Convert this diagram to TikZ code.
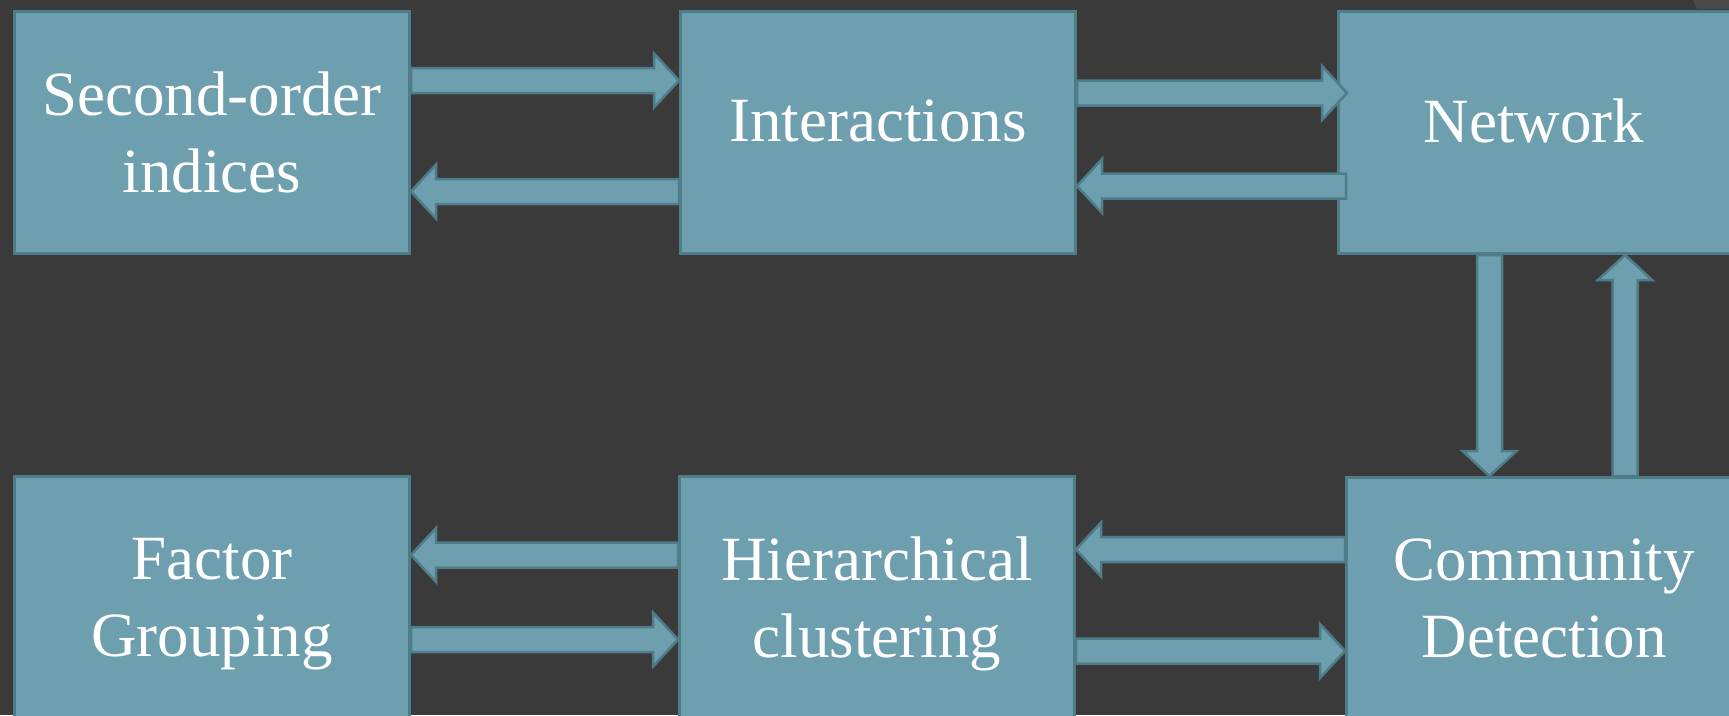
\documentclass[tikz,border=0pt]{standalone}
\usepackage{fontspec}
\setmainfont{Liberation Serif}
\usetikzlibrary{calc}
\definecolor{bgdark}{RGB}{58,58,58}
\definecolor{bgpatch}{RGB}{74,74,74}
\definecolor{boxfill}{RGB}{110,159,175}
\definecolor{boxline}{RGB}{79,124,137}
\tikzset{
  stage/.style={draw=boxline, fill=boxfill, line width=3pt, minimum width=395pt,
    minimum height=242pt, inner sep=0pt, anchor=north west},
  caption/.style={text=white, font=\fontsize{63}{77}\selectfont, align=center, inner sep=0pt},
  flow/.style={draw=boxline, fill=boxfill, line width=2.5pt, line join=miter},
}
% block arrow from #1 to #2: shaft 25pt wide, head 54pt wide and 25pt long
\newcommand\flowarrow[2]{%
  \path (#1) coordinate (fa-s) (#2) coordinate (fa-t);
  \path ($(fa-t)!25pt!(fa-s)$) coordinate (fa-h);
  \draw[flow] ($(fa-s)!12.5pt!90:(fa-t)$) -- ($(fa-h)!12.5pt!-90:(fa-s)$)
    -- ($(fa-h)!27pt!-90:(fa-s)$) -- (fa-t) -- ($(fa-h)!27pt!90:(fa-s)$)
    -- ($(fa-h)!12.5pt!90:(fa-s)$) -- ($(fa-s)!12.5pt!-90:(fa-t)$) -- cycle;}
\begin{document}
\begin{tikzpicture}[x=1pt, y=-1pt]
\useasboundingbox (0,0) rectangle (1729,715);
\fill[bgdark] (0,0) rectangle (1729,715);
\fill[bgpatch] (1693,0) -- (1729,0) -- (1729,9) -- (1697,9) -- cycle;

% stages
\node[stage] (so) at (13,10) {};
\node[stage] (ia) at (679,10) {};
\node[stage] (nw) at (1337,10) {};
\node[stage] (fg) at (13,475) {};
\node[stage] (hc) at (678,475) {};
\node[stage] (cd) at (1345,476) {};

% captions
\node[caption] (so-t) at ($(so.north)+(0,122)$) {Second-order\\indices};
\node[caption] (ia-t) at ($(ia.north)+(0,110.5)$) {Interactions};
\node[caption] (nw-t) at ($(nw.north)+(-2,110.5)$) {Network};
\node[caption] (fg-t) at ($(fg.north)+(0,129)$) {Factor\\Grouping};
\node[caption] (hc-t) at ($(hc.north)+(0,128.5)$) {Hierarchical\\clustering};
\node[caption] (cd-t) at ($(cd.north)+(0,122)$) {Community\\Detection};

% top row
\flowarrow{so.east |- 0,80.5}{ia.west |- 0,80.5}
\flowarrow{ia.west |- 0,191.5}{so.east |- 0,191.5}
\flowarrow{ia.east |- 0,93}{$(nw.west |- 0,93)+(10,0)$}
\flowarrow{$(nw.west |- 0,186)+(9,0)$}{ia.east |- 0,186}

% right column
\flowarrow{nw.south -| 1489.5,0}{cd.north -| 1489.5,0}
\flowarrow{cd.north -| 1625,0}{nw.south -| 1625,0}

% bottom row
\flowarrow{hc.west |- 0,555}{fg.east |- 0,555}
\flowarrow{fg.east |- 0,639.5}{hc.west |- 0,639.5}
\flowarrow{cd.west |- 0,549.5}{hc.east |- 0,549.5}
\flowarrow{hc.east |- 0,651}{cd.west |- 0,651}
\end{tikzpicture}
\end{document}
